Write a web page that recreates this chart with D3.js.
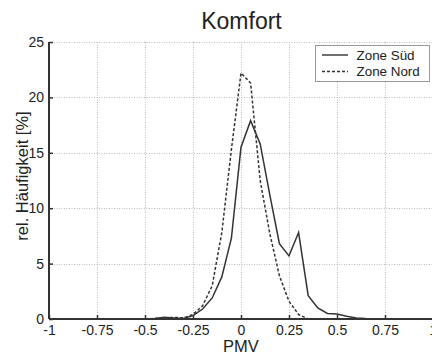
<!DOCTYPE html>
<html><head><meta charset="utf-8">
<script src="https://cdn.jsdelivr.net/npm/d3@7"></script>
<style>
html,body{margin:0;padding:0;background:#fff;overflow:hidden;}
text{font-family:Arial,"Liberation Sans",Helvetica,sans-serif;fill:#222;}
</style></head>
<body>
<svg id="c" width="432" height="356"></svg>
<script>
const title = "Komfort";
const xLabel = "PMV";
const yLabel = "rel. Häufigkeit [%]";
const seriesNames = ["Zone Süd", "Zone Nord"];
const pmv = [-0.5,-0.45,-0.4,-0.35,-0.3,-0.25,-0.2,-0.15,-0.1,-0.05,0,0.05,0.1,0.15,0.2,0.25,0.3,0.35,0.4,0.45,0.5,0.55,0.6,0.65,0.7,0.75];
const sued = [0,0.05,0.15,0.1,0.05,0.3,0.9,1.9,3.8,7.3,15.5,17.9,15.8,11.2,6.8,5.7,7.8,2.1,1.0,0.5,0.45,0.25,0.1,0.05,0.02,0];
const nord = [0,0.05,0.1,0.15,0.1,0.4,1.2,3.0,7.8,15.3,22.2,21.3,12.5,7.7,3.9,1.6,0.4,0,0,0,0,0,0,0,0,0];
const xTicks = [-1,-0.75,-0.5,-0.25,0,0.25,0.5,0.75,1];
const xTickLabels = ["-1","-0.75","-0.5","-0.25","0","0.25","0.5","0.75","1"];
const yTicks = [0,5,10,15,20,25];
const yTickLabels = ["0","5","10","15","20","25"];

const svg = d3.select("#c");
const x = d3.scaleLinear().domain([-1,1]).range([49,433]);
const y = d3.scaleLinear().domain([0,25]).range([319,42]);

// grid
const grid = svg.append("g").attr("stroke","#bdbdbd").attr("stroke-width",1).attr("stroke-dasharray","1,1.5");
grid.selectAll(".gx").data(xTicks.slice(1)).join("line")
  .attr("x1",d=>x(d)+0.5).attr("x2",d=>x(d)+0.5).attr("y1",y(25)).attr("y2",y(0));
grid.selectAll(".gy").data(yTicks.slice(1)).join("line")
  .attr("x1",x(-1)).attr("x2",x(1)).attr("y1",d=>Math.round(y(d))+0.5).attr("y2",d=>Math.round(y(d))+0.5);

// lines
const line = d3.line().x((d,i)=>x(pmv[i])).y(d=>y(d));
svg.append("path").datum(nord).attr("d",line).attr("fill","none")
  .attr("stroke","#333").attr("stroke-width",1.5).attr("stroke-dasharray","3,2");
svg.append("path").datum(sued).attr("d",line).attr("fill","none")
  .attr("stroke","#333").attr("stroke-width",1.5);

// axes
const xAxis = d3.axisBottom(x).tickValues(xTicks).tickFormat((d,i)=>xTickLabels[i]).tickSize(-4).tickPadding(6);
const gx = svg.append("g").attr("transform",`translate(0,${y(0)})`).call(xAxis);
gx.select(".domain").attr("stroke","#333").attr("stroke-width",2).attr("d",`M${x(-1)},0H${x(1)}`);
gx.selectAll(".tick line").attr("stroke","#333").attr("stroke-width",1.5);
gx.selectAll("text").attr("font-size",14).attr("font-family","Arial, Liberation Sans, sans-serif").attr("fill","#222");

const yAxis = d3.axisLeft(y).tickValues(yTicks).tickFormat((d,i)=>yTickLabels[i]).tickSize(-4).tickPadding(5);
const gy = svg.append("g").attr("transform",`translate(${x(-1)},0)`).call(yAxis);
gy.select(".domain").attr("stroke","#333").attr("stroke-width",2).attr("d",`M0,${y(0)}V${y(25)}`);
gy.selectAll(".tick line").attr("stroke","#333").attr("stroke-width",1.5);
gy.selectAll("text").attr("font-size",14).attr("font-family","Arial, Liberation Sans, sans-serif").attr("fill","#222");

// title & labels
svg.append("text").attr("x",241.5).attr("y",28.5).attr("text-anchor","middle").attr("font-size",23).text(title);
svg.append("text").attr("x",241).attr("y",352).attr("text-anchor","middle").attr("font-size",16.5).text(xLabel);
svg.append("text").attr("transform","translate(28,176) rotate(-90)").attr("text-anchor","middle").attr("font-size",16.5).text(yLabel);

// legend
const lg = svg.append("g");
lg.append("rect").attr("x",315.5).attr("y",45.5).attr("width",114).attr("height",36).attr("fill","#fff").attr("stroke","#999").attr("stroke-width",1);
const dashes = [null,"3,2"];
seriesNames.forEach((n,i)=>{
  const yy = 55 + i*16.5;
  lg.append("line").attr("x1",322).attr("x2",348).attr("y1",yy).attr("y2",yy)
    .attr("stroke","#333").attr("stroke-width",1.4).attr("stroke-dasharray",dashes[i]);
  lg.append("text").attr("x",356.5).attr("y",yy+4.8).attr("font-size",13.4).text(n);
});
</script>
</body></html>
